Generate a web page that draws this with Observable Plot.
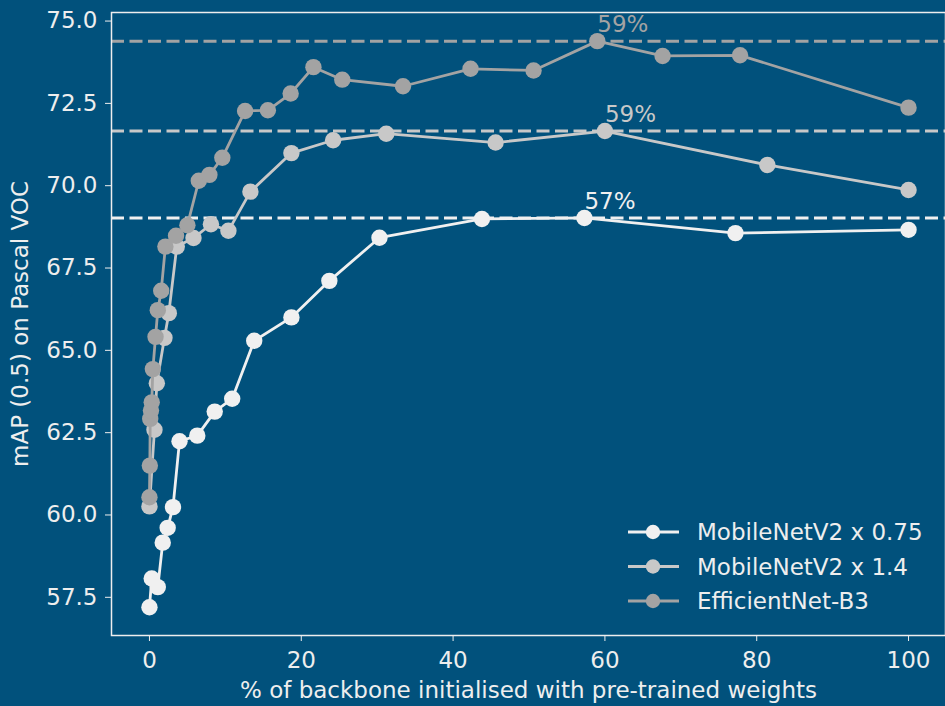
<!DOCTYPE html>
<html>
<head>
<meta charset="utf-8">
<script src="https://cdn.jsdelivr.net/npm/d3@7"></script>
<script src="https://cdn.jsdelivr.net/npm/@observablehq/plot@0.6"></script>
<style>
  html, body { margin: 0; padding: 0; background: #01517c; }
  #wrap { position: relative; width: 945px; height: 706px; overflow: hidden; font-family: "DejaVu Sans", sans-serif; }
  #legend { position: absolute; left: 0; top: 0; pointer-events: none; }
</style>
</head>
<body>
<div id="wrap"></div>
<script>
// ---- data ----
const seriesNames = ["MobileNetV2 x 0.75", "MobileNetV2 x 1.4", "EfficientNet-B3"];
const seriesColors = ["#f0f0f0", "#c8c8c8", "#a3a3a3"];
const peakLabels = ["57%", "59%", "59%"];

const x075 = [0, 0.3, 1.1, 1.75, 2.4, 3.1, 3.96, 6.3, 8.6, 10.9, 13.8, 18.7, 23.7, 30.3, 43.8, 57.3, 77.2, 100];
const y075 = [57.2, 58.07, 57.81, 59.16, 59.61, 60.24, 62.24, 62.41, 63.14, 63.53, 65.29, 66.0, 67.11, 68.42, 68.99, 69.02, 68.56, 68.66];

const x14 = [0, 0.66, 0.97, 1.98, 2.55, 3.6, 5.8, 8.1, 10.4, 13.3, 18.7, 24.2, 31.2, 45.6, 60.0, 81.4, 100];
const y14 = [60.26, 62.59, 64.0, 65.38, 66.13, 68.15, 68.41, 68.83, 68.63, 69.82, 70.99, 71.38, 71.58, 71.31, 71.66, 70.63, 69.87];

const xEff = [0, 0.05, 0.1, 0.2, 0.3, 0.45, 0.8, 1.1, 1.55, 2.1, 3.5, 5.0, 6.5, 7.9, 9.6, 12.6, 15.6, 18.6, 21.6, 25.4, 33.4, 42.3, 50.6, 59.0, 67.6, 77.8, 100];
const yEff = [60.54, 61.50, 62.92, 63.17, 63.42, 64.43, 65.41, 66.22, 66.81, 68.15, 68.48, 68.8, 70.15, 70.33, 70.85, 72.27, 72.29, 72.80, 73.60, 73.22, 73.02, 73.55, 73.50, 74.39, 73.94, 73.96, 72.37];

const xTicks = [0, 20, 40, 60, 80, 100];
const yTicks = [57.5, 60.0, 62.5, 65.0, 67.5, 70.0, 72.5, 75.0];

// ---- build tables ----
const xsAll = [x075, x14, xEff];
const ysAll = [y075, y14, yEff];
const series = seriesNames.map((name, i) => {
  const rows = xsAll[i].map((x, j) => ({ x, y: ysAll[i][j], name, color: seriesColors[i] }));
  const peak = rows.reduce((a, b) => (b.y > a.y ? b : a));
  return { name, color: seriesColors[i], rows, peak: { ...peak, label: peakLabels[i] } };
});
const peaks = series.map(s => s.peak);

const fg = "#eeeeee";
const FS = 23;

const marks = [
  Plot.ruleY(peaks, { y: "y", stroke: "color", strokeWidth: 3, strokeDasharray: "13,5.5" })
];
for (const s of series) {
  marks.push(Plot.line(s.rows, { x: "x", y: "y", stroke: s.color, strokeWidth: 2.8 }));
  marks.push(Plot.dot(s.rows, { x: "x", y: "y", fill: s.color, r: 8.2, stroke: null }));
}
marks.push(Plot.text(peaks, { x: "x", y: "y", text: "label", fill: "color", textAnchor: "start", lineAnchor: "bottom", dy: -9, fontSize: FS }));
marks.push(Plot.axisX({ ticks: xTicks, tickFormat: d3.format("d"), tickSize: 6, tickPadding: 10, fontSize: FS,
  label: "% of backbone initialised with pre-trained weights", labelAnchor: "center", labelArrow: "none", labelOffset: 62 }));
marks.push(Plot.axisY({ ticks: yTicks, tickFormat: d3.format(".1f"), tickSize: 6, tickPadding: 8, fontSize: FS,
  label: "mAP (0.5) on Pascal VOC", labelAnchor: "center", labelArrow: "none", labelOffset: 100 }));
marks.push(Plot.frame({ stroke: fg, strokeWidth: 1.5 }));

const chart = Plot.plot({
  width: 945,
  height: 706,
  marginLeft: 111,
  marginRight: 0,
  marginTop: 12,
  marginBottom: 71,
  style: { background: "#01517c", color: fg, fontFamily: "DejaVu Sans, sans-serif", fontSize: FS + "px", overflow: "hidden" },
  x: { domain: [-5, 105], range: [111, 946] },
  y: { domain: [56.34, 75.26], range: [635, 12] },
  color: { type: "identity" },
  marks
});
const wrap = document.getElementById("wrap");
wrap.appendChild(chart);

// ---- legend overlay ----
const leg = d3.select(wrap).append("svg").attr("id", "legend").attr("width", 945).attr("height", 706);
const g = leg.selectAll("g").data(series).join("g")
  .attr("transform", (d, i) => `translate(628, ${532 + i * 34.5})`);
g.append("line").attr("x1", 0).attr("x2", 51).attr("y1", 0).attr("y2", 0)
  .attr("stroke", d => d.color).attr("stroke-width", 2.8);
g.append("circle").attr("cx", 25).attr("cy", 0).attr("r", 7.2).attr("fill", d => d.color);
g.append("text").attr("x", 69).attr("y", 0).attr("dy", "0.35em")
  .attr("fill", fg).attr("font-size", FS).attr("font-family", "DejaVu Sans, sans-serif")
  .text(d => d.name);
</script>
</body>
</html>
